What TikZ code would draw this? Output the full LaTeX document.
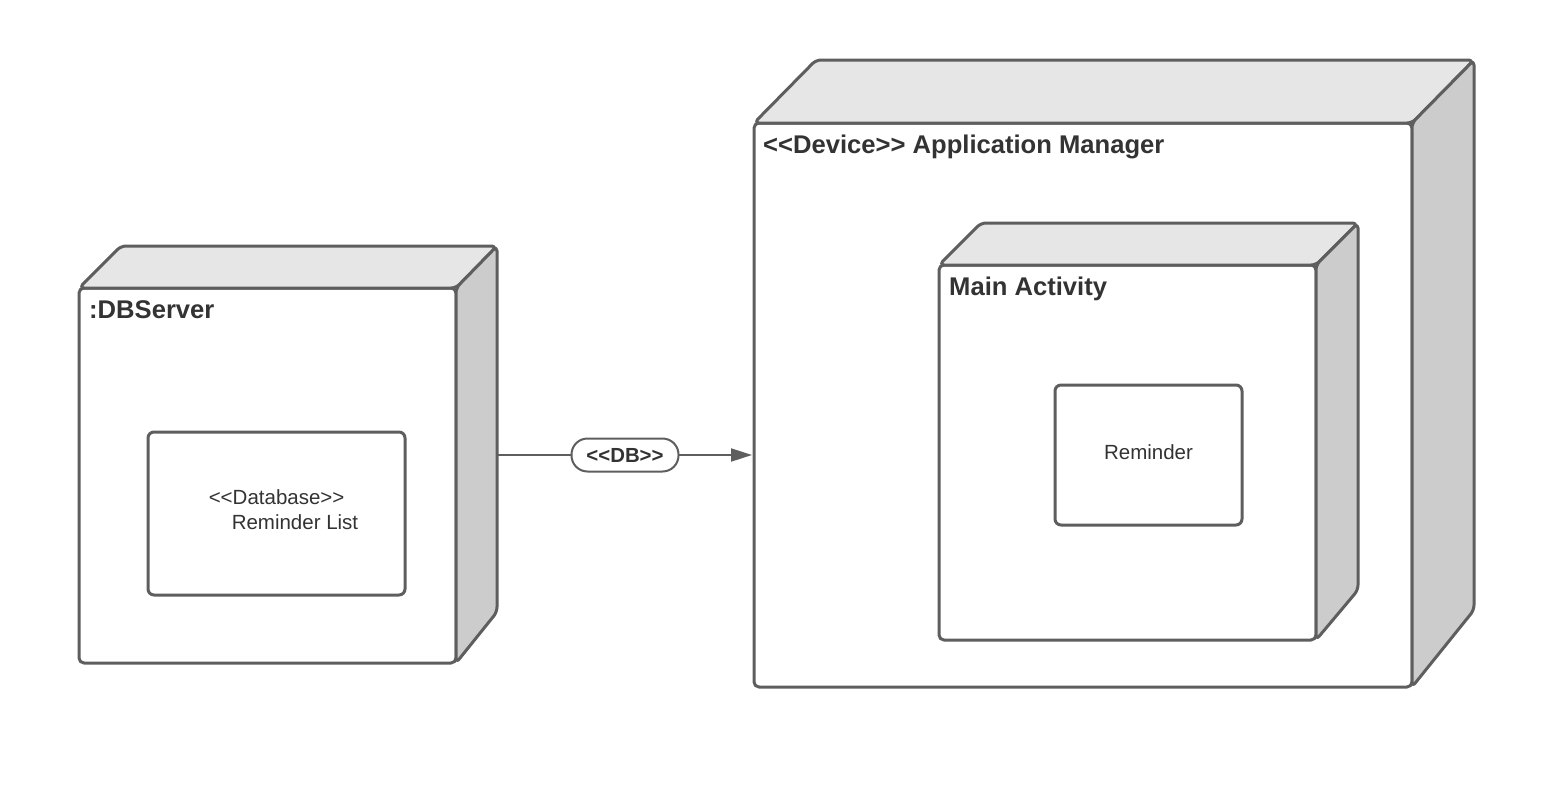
\documentclass[tikz,border=0pt]{standalone}
\usepackage{fontspec}
\setmainfont{Liberation Sans}
\usetikzlibrary{arrows.meta}
\definecolor{edge}{HTML}{5E5E5E}
\definecolor{topf}{HTML}{E6E6E6}
\definecolor{sidef}{HTML}{CCCCCC}
\definecolor{txt}{HTML}{333333}
\newcommand{\LL}{<\kern0pt<}
\newcommand{\GG}{>\kern0pt>}
\begin{document}
\begin{tikzpicture}[x=1pt,y=-1pt,
  face/.style={draw=edge, line width=3pt, rounded corners=5pt, line join=round},
  front/.style={face, fill=white, inner sep=0pt, outer sep=0pt},
  inbox/.style={draw=edge, line width=3pt, rounded corners=6pt, fill=white, inner sep=0pt, outer sep=0pt},
  title/.style={anchor=base west, inner sep=0pt, text=txt, font=\fontsize{25.6}{30}\selectfont\bfseries},
  body/.style={inner sep=0pt, text=txt, font=\fontsize{20.5}{25}\selectfont},
  pill/.style={draw=edge, line width=2pt, rounded corners=16pt, fill=white, minimum width=107pt, minimum height=33pt, inner sep=0pt, text=txt, font=\fontsize{20.4}{24}\selectfont\bfseries},
  conn/.style={draw=edge, line width=2pt, -{Triangle[length=21pt,width=13pt]}, shorten >=2pt}]
\useasboundingbox (0,0) rectangle (1564,790);

% ---- DBServer node ----
\node[front, minimum width=377pt, minimum height=375pt] (db) at (267.5,475.5) {};
\path[face, fill=topf] (db.north west) -- ++(42,-42) -- ++(376,0) -- (db.north east) -- cycle;
\path[face, fill=sidef] (db.north east) -- ++(41,-42) -- ++(0,366) -- (db.south east) -- cycle;
\node[title] (dbt) at (89,318) {:DBServer};
\node[inbox, minimum width=257pt, minimum height=163pt] (dbbox) at (276.5,513.5) {};
\node[body, align=left] (dblab) at (283.5,510) {\LL Database\GG\\\hspace*{23pt}Reminder List};

% ---- Application Manager node ----
\node[front, minimum width=658pt, minimum height=564pt] (app) at (1083,405) {};
\path[face, fill=topf] (app.north west) -- ++(62,-63) -- ++(658,0) -- (app.north east) -- cycle;
\path[face, fill=sidef] (app.north east) -- ++(62,-63) -- ++(0,550) -- (app.south east) -- cycle;
\node[title] (appt) at (763,153) {\LL Device\GG\ Application Manager};

% ---- Main Activity node ----
\node[front, minimum width=377pt, minimum height=375pt] (main) at (1127.5,452.5) {};
\path[face, fill=topf] (main.north west) -- ++(42,-42) -- ++(377,0) -- (main.north east) -- cycle;
\path[face, fill=sidef] (main.north east) -- ++(42,-42) -- ++(0,367) -- (main.south east) -- cycle;
\node[title] (maint) at (949,295) {Main Activity};

% ---- Reminder ----
\node[inbox, minimum width=187pt, minimum height=140pt] (rem) at (1148.5,455) {};
\node[body] (remt) at (1148.5,452) {Reminder};

% ---- connector ----
\coordinate (dbport) at (498,455);
\draw[conn] (dbport) -- (dbport -| app.west)
  node[pill, midway, xshift=-1pt] (dblink) {\LL DB\GG};
\end{tikzpicture}
\end{document}
